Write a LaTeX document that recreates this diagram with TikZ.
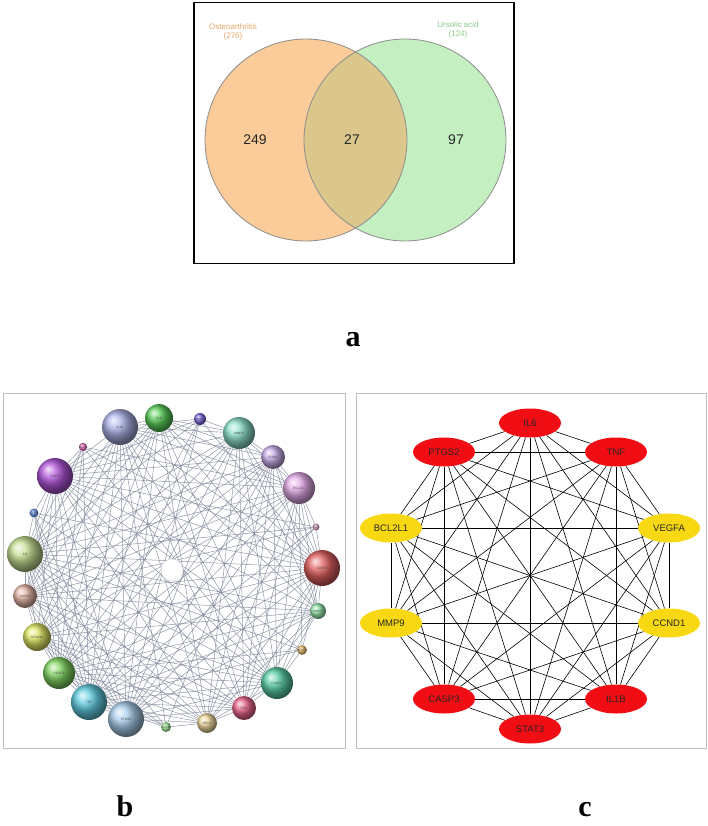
\documentclass[tikz,border=0pt]{standalone}
\usepackage{fontspec}
\setmainfont{Liberation Serif}
\setsansfont{Liberation Sans}
\usetikzlibrary{shapes.geometric,backgrounds}
\definecolor{oaFill}{HTML}{FCCB9A}
\definecolor{uaFill}{HTML}{C4EFC1}
\definecolor{ovFill}{HTML}{DBC68C}
\definecolor{vennLine}{HTML}{8C8C8C}
\definecolor{oaText}{HTML}{E9A466}
\definecolor{uaText}{HTML}{86CC86}
\definecolor{boxGray}{HTML}{BDBDBD}
\definecolor{netLine}{HTML}{7F8699}
\definecolor{hubRed}{HTML}{F00E14}
\definecolor{hubYellow}{HTML}{F8D812}
\tikzset{
  vennlabel/.style={font=\sffamily\fontsize{8}{9}\selectfont, align=center},
  vennnum/.style={font=\sffamily\fontsize{14}{16}\selectfont, text=black!85},
  panellabel/.style={font=\bfseries\fontsize{30}{32}\selectfont, inner sep=0pt, anchor=base},
  ball/.style={circle, inner sep=0pt, minimum size=#1, shading=ball, font=\sffamily\fontsize{3.2}{4}\selectfont, text=black!70},
  netedge/.style={draw=netLine, line width=0.5pt, opacity=0.85},
  hub/.style={ellipse, minimum width=62pt, minimum height=29pt, inner sep=0pt, font=\sffamily\fontsize{9.5}{11}\selectfont, text=black!85},
  hubedge/.style={draw=black, line width=0.6pt},
  panelbox/.style={draw=boxGray, line width=1pt, inner sep=0pt}
}
\begin{document}
\begin{tikzpicture}[x=1pt,y=-1pt]
\useasboundingbox (0,0) rectangle (708,826);

% ---------------- panel a: Venn ----------------
\node[draw=black, line width=1.6pt, minimum width=320pt, minimum height=261pt, inner sep=0pt] (vbox) at (354,133) {};
\node[circle, minimum size=202pt, inner sep=0pt, fill=oaFill] (oa) at (306,140) {};
\node[circle, minimum size=202pt, inner sep=0pt, fill=uaFill] (ua) at (405,140) {};
\begin{scope}
  \clip (306,140) circle[radius=101pt];
  \fill[ovFill] (405,140) circle[radius=101pt];
\end{scope}
\draw[vennLine, line width=0.8pt] (306,140) circle[radius=101pt];
\draw[vennLine, line width=0.8pt] (405,140) circle[radius=101pt];
\node[vennlabel, text=oaText] (oalab) at (233,32) {Osteoarthritis\\(276)};
\node[vennlabel, text=uaText] (ualab) at (458,30) {Ursolic acid\\(124)};
\node[vennnum] (n249) at (255,140) {249};
\node[vennnum] (n27) at (352,140) {27};
\node[vennnum] (n97) at (456,140) {97};
\node[panellabel] (la) at (353,346) {a};

% ---------------- panel b: PPI (STRING style) ----------------
\node[panelbox, minimum width=342pt, minimum height=355pt] (bbox) at (174,570.5) {};
\node[ball=36pt, ball color={rgb,255:red,170;green,176;blue,228}] (bIL1B) at (120,427) {IL1B};
\node[ball=28pt, ball color={rgb,255:red,90;green,205;blue,90}] (bALB) at (159,418) {ALB};
\node[ball=12pt, ball color={rgb,255:red,120;green,105;blue,220}] (bMMP1) at (200,419) {MMP1};
\node[ball=32pt, ball color={rgb,255:red,140;green,222;blue,200}] (bMMP9) at (239,433) {MMP9};
\node[ball=24pt, ball color={rgb,255:red,200;green,170;blue,232}] (bICAM1) at (273,457) {ICAM1};
\node[ball=32pt, ball color={rgb,255:red,228;green,170;blue,232}] (bBCL2L1) at (299,488) {BCL2L1};
\node[ball=7pt, ball color={rgb,255:red,236;green,170;blue,210}] (bBAX) at (316,527) {BAX};
\node[ball=36pt, ball color={rgb,255:red,226;green,96;blue,96}] (bCASP3) at (322,568) {CASP3};
\node[ball=16pt, ball color={rgb,255:red,150;green,230;blue,172}] (bMMP3) at (318,611) {MMP3};
\node[ball=8pt, ball color={rgb,255:red,236;green,184;blue,100}] (bBIRC5) at (302,650) {BIRC5};
\node[ball=32pt, ball color={rgb,255:red,90;green,208;blue,166}] (bCCND1) at (277,683) {CCND1};
\node[ball=24pt, ball color={rgb,255:red,232;green,100;blue,140}] (bFOS) at (244,708) {FOS};
\node[ball=20pt, ball color={rgb,255:red,236;green,216;blue,156}] (bRELA) at (207,723) {RELA};
\node[ball=10pt, ball color={rgb,255:red,160;green,232;blue,146}] (bSELE) at (166,727) {SELE};
\node[ball=36pt, ball color={rgb,255:red,168;green,204;blue,234}] (bPTGS2) at (126,719) {PTGS2};
\node[ball=36pt, ball color={rgb,255:red,96;green,204;blue,224}] (bTNF) at (89,702) {TNF};
\node[ball=32pt, ball color={rgb,255:red,128;green,212;blue,96}] (bVEGFA) at (59,673) {VEGFA};
\node[ball=28pt, ball color={rgb,255:red,222;green,230;blue,100}] (bNFKBIA) at (37,637) {NFKBIA};
\node[ball=24pt, ball color={rgb,255:red,228;green,180;blue,166}] (bCASP9) at (25,596) {CASP9};
\node[ball=36pt, ball color={rgb,255:red,196;green,222;blue,146}] (bIL6) at (25,554) {IL6};
\node[ball=8pt, ball color={rgb,255:red,100;green,140;blue,226}] (bPTEN) at (34,513) {PTEN};
\node[ball=36pt, ball color={rgb,255:red,176;green,84;blue,216}] (bSTAT3) at (55,476) {STAT3};
\node[ball=8pt, ball color={rgb,255:red,226;green,110;blue,184}] (bBCL2) at (83,447) {BCL2};
\node[circle, fill=white, draw=black!15, line width=0.4pt, minimum size=22pt, inner sep=0pt] (bCTR) at (172,570) {};
\begin{pgfonlayer}{background}
  \foreach \a [count=\i] in {IL1B,ALB,MMP9,ICAM1,BCL2L1,CASP3,MMP3,CCND1,FOS,RELA,PTGS2,TNF,VEGFA,NFKBIA,CASP9,IL6,STAT3}{
    \foreach \b [count=\j] in {IL1B,ALB,MMP9,ICAM1,BCL2L1,CASP3,MMP3,CCND1,FOS,RELA,PTGS2,TNF,VEGFA,NFKBIA,CASP9,IL6,STAT3}{
      \ifnum\j>\i \draw[netedge] (b\a) -- (b\b); \fi
    }
  }
  \foreach \b in {IL1B,TNF,IL6,CASP3,PTGS2,VEGFA,STAT3,MMP9}{\draw[netedge] (bMMP1) -- (b\b);}
  \foreach \b in {CASP3,IL6,TNF,BCL2L1,STAT3,CASP9,PTGS2}{\draw[netedge] (bBAX) -- (b\b);}
  \foreach \b in {CASP3,CCND1,STAT3,TNF,VEGFA,IL6,BCL2L1}{\draw[netedge] (bBIRC5) -- (b\b);}
  \foreach \b in {ICAM1,TNF,IL1B,IL6,VEGFA,RELA,NFKBIA}{\draw[netedge] (bSELE) -- (b\b);}
  \foreach \b in {CASP3,CCND1,STAT3,VEGFA,IL6,TNF,PTGS2}{\draw[netedge] (bPTEN) -- (b\b);}
  \foreach \b in {CASP3,BCL2L1,STAT3,TNF,IL6,VEGFA,CASP9,CCND1}{\draw[netedge] (bBCL2) -- (b\b);}
\end{pgfonlayer}

% ---------------- panel c: hub genes ----------------
\node[panelbox, minimum width=350pt, minimum height=355pt] (cbox) at (531,570.5) {};
\node[hub, fill=hubRed] (cIL6) at (530,423) {IL6};
\node[hub, fill=hubRed] (cTNF) at (616,452) {TNF};
\node[hub, fill=hubYellow] (cVEGFA) at (669,528) {VEGFA};
\node[hub, fill=hubYellow] (cCCND1) at (669,623) {CCND1};
\node[hub, fill=hubRed] (cIL1B) at (616,699) {IL1B};
\node[hub, fill=hubRed] (cSTAT3) at (530,729) {STAT3};
\node[hub, fill=hubRed] (cCASP3) at (444,699) {CASP3};
\node[hub, fill=hubYellow] (cMMP9) at (391,623) {MMP9};
\node[hub, fill=hubYellow] (cBCL2L1) at (391,528) {BCL2L1};
\node[hub, fill=hubRed] (cPTGS2) at (444,452) {PTGS2};
\begin{pgfonlayer}{background}
  \foreach \a [count=\i] in {IL6,TNF,VEGFA,CCND1,IL1B,STAT3,CASP3,MMP9,BCL2L1,PTGS2}{
    \foreach \b [count=\j] in {IL6,TNF,VEGFA,CCND1,IL1B,STAT3,CASP3,MMP9,BCL2L1,PTGS2}{
      \ifnum\j>\i \draw[hubedge] (c\a) -- (c\b); \fi
    }
  }
\end{pgfonlayer}

\node[panellabel] (lb) at (125,816) {b};
\node[panellabel] (lc) at (585,816) {c};
\end{tikzpicture}
\end{document}
